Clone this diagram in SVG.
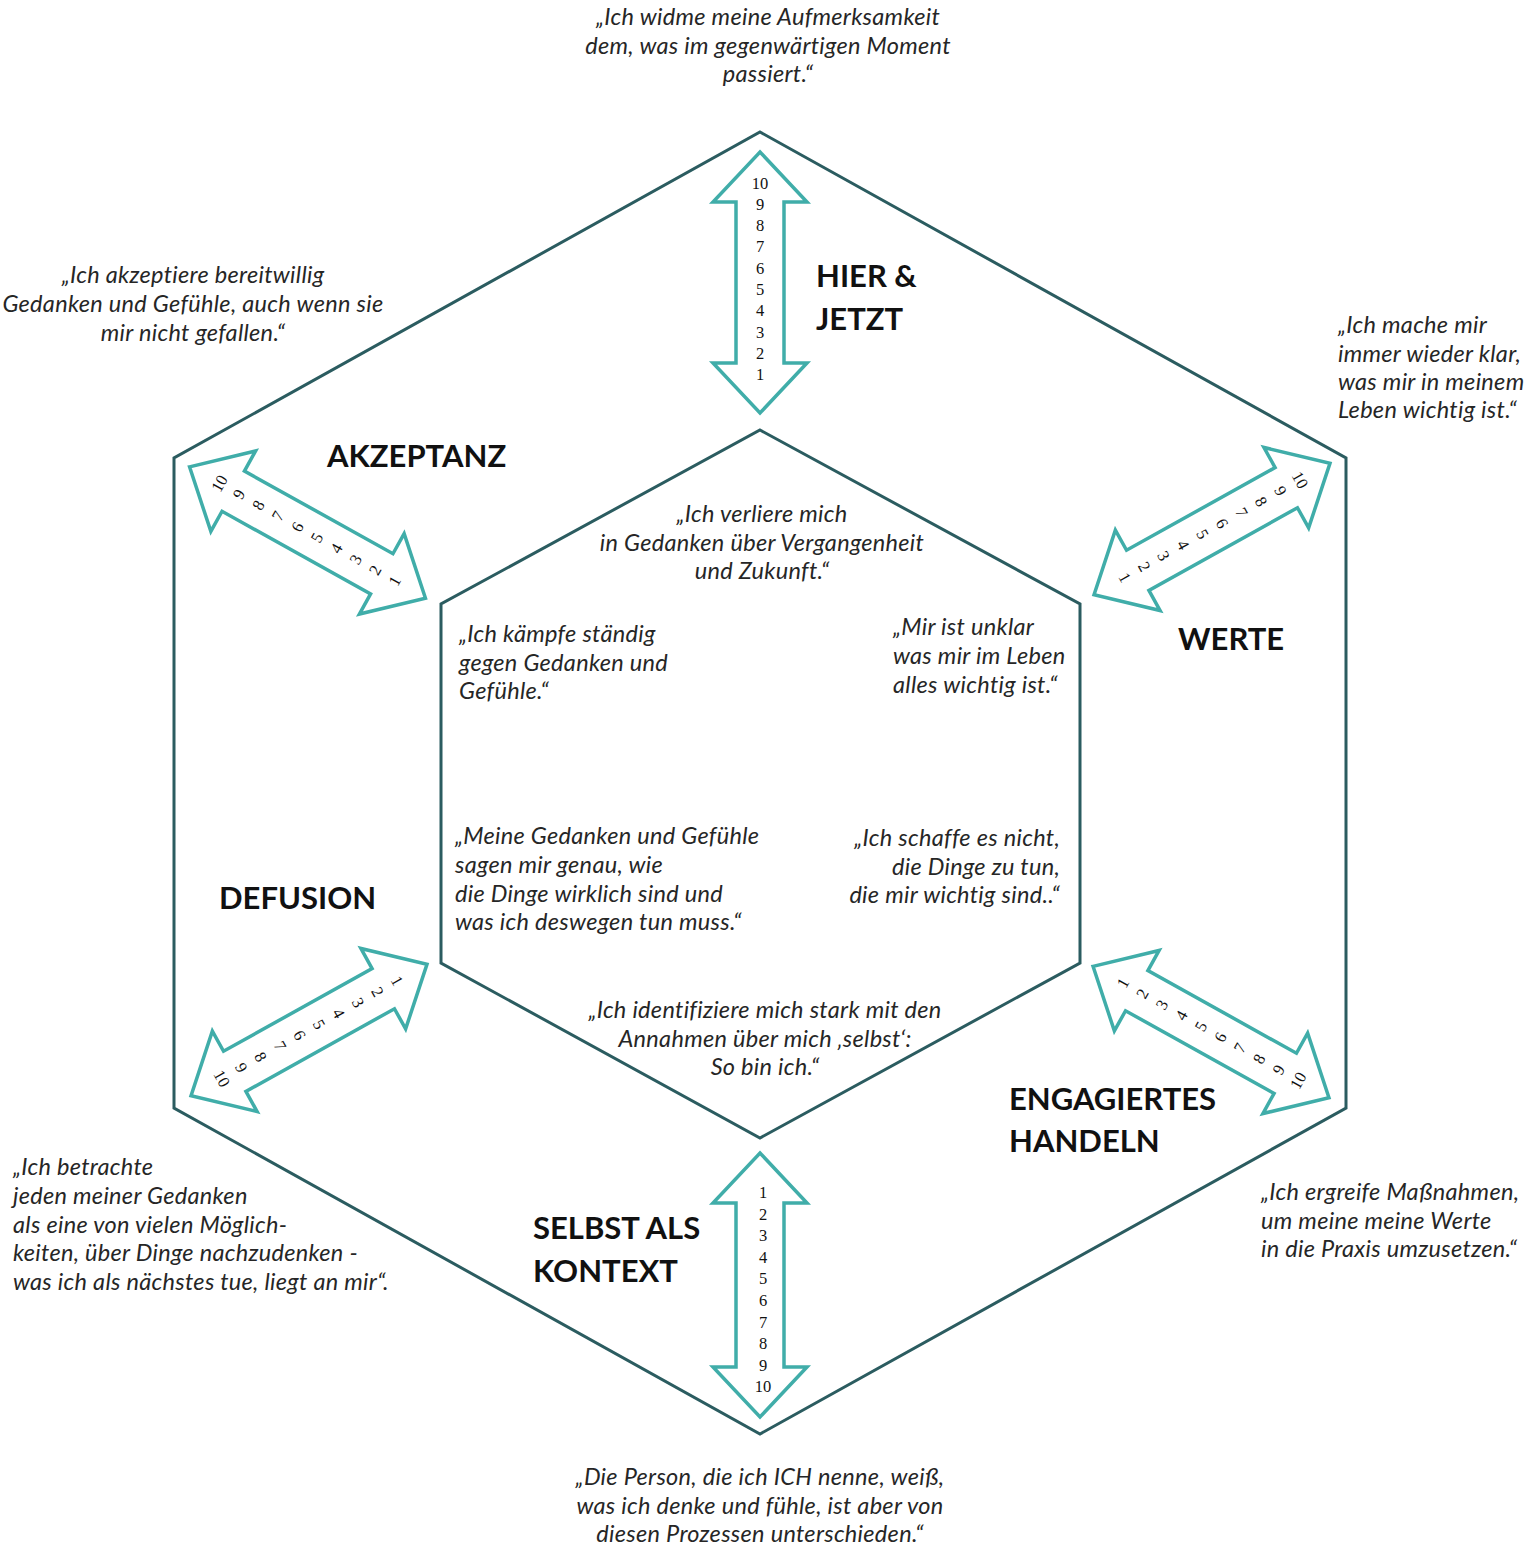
<svg xmlns="http://www.w3.org/2000/svg" xmlns:xlink="http://www.w3.org/1999/xlink" width="1532" height="1544" viewBox="0 0 1532 1544">
<defs>
<style>
.hex{fill:none;stroke:#2b5c60;stroke-width:3;stroke-linejoin:miter}
.arrow{fill:#ffffff;stroke:#40ada9;stroke-width:3.5;stroke-linejoin:miter}
.q{font-family:Lato,"Liberation Sans",sans-serif;font-style:italic;font-size:23.5px;letter-spacing:0.3px;fill:#262626}
.c{text-anchor:middle}
.r{text-anchor:end}
.t{font-family:Lato,"Liberation Sans",sans-serif;font-weight:bold;font-size:31px;fill:#111111}
.n{font-family:"Liberation Serif","Times New Roman",serif;font-size:16.5px;text-anchor:middle;fill:#111111}
</style>
<polygon id="arrV1" class="arrow" points="0,-130.5 47,-80.5 24,-80.5 24,80.5 47,80.5 0,130.5 -47,80.5 -24,80.5 -24,-80.5 -47,-80.5"/>
<polygon id="arrV2" class="arrow" points="0,-132 47,-82 24,-82 24,82 47,82 0,132 -47,82 -24,82 -24,-82 -47,-82"/>
<polygon id="arrD" class="arrow" points="0,-135 46,-85 23,-85 23,85 46,85 0,135 -46,85 -23,85 -23,-85 -46,-85"/>
</defs>
<rect x="0" y="0" width="1532" height="1544" fill="#ffffff"/>

<g id="outer-hexagon">
<polygon class="hex" points="760,132 1346,458 1346,1108 760,1434 174,1108 174,458"/>
</g>
<g id="inner-hexagon">
<polygon class="hex" points="760,430 1080,604 1080,963 760,1138 441,963 441,604"/>
</g>

<g id="connectors">
<g id="scale-hier-jetzt" transform="translate(760,282.5)">
<use xlink:href="#arrV1"/>
<text class="n" x="0" y="-94">10</text>
<text class="n" x="0" y="-72.7">9</text>
<text class="n" x="0" y="-51.4">8</text>
<text class="n" x="0" y="-30.1">7</text>
<text class="n" x="0" y="-8.8">6</text>
<text class="n" x="0" y="12.5">5</text>
<text class="n" x="0" y="33.8">4</text>
<text class="n" x="0" y="55.1">3</text>
<text class="n" x="0" y="76.4">2</text>
<text class="n" x="0" y="97.7">1</text>
</g>
<g id="scale-selbst" transform="translate(760,1285)">
<use xlink:href="#arrV2"/>
<text class="n" x="3" y="-86.8">1</text>
<text class="n" x="3" y="-65.3">2</text>
<text class="n" x="3" y="-43.7">3</text>
<text class="n" x="3" y="-22.2">4</text>
<text class="n" x="3" y="-0.6">5</text>
<text class="n" x="3" y="20.9">6</text>
<text class="n" x="3" y="42.5">7</text>
<text class="n" x="3" y="64">8</text>
<text class="n" x="3" y="85.6">9</text>
<text class="n" x="3" y="107.1">10</text>
</g>
<g id="scale-akzeptanz" transform="translate(307.5,532.5) rotate(-60.9)">
<use xlink:href="#arrD"/>
<text class="n" x="0" y="-95.3">10</text>
<text class="n" x="0" y="-73">9</text>
<text class="n" x="0" y="-50.7">8</text>
<text class="n" x="0" y="-28.4">7</text>
<text class="n" x="0" y="-6.1">6</text>
<text class="n" x="0" y="16.2">5</text>
<text class="n" x="0" y="38.5">4</text>
<text class="n" x="0" y="60.8">3</text>
<text class="n" x="0" y="83.1">2</text>
<text class="n" x="0" y="105.4">1</text>
</g>
<g id="scale-werte" transform="translate(1212,529) rotate(60.9)">
<use xlink:href="#arrD"/>
<text class="n" x="0" y="-95.3">10</text>
<text class="n" x="0" y="-73">9</text>
<text class="n" x="0" y="-50.7">8</text>
<text class="n" x="0" y="-28.4">7</text>
<text class="n" x="0" y="-6.1">6</text>
<text class="n" x="0" y="16.2">5</text>
<text class="n" x="0" y="38.5">4</text>
<text class="n" x="0" y="60.8">3</text>
<text class="n" x="0" y="83.1">2</text>
<text class="n" x="0" y="105.4">1</text>
</g>
<g id="scale-defusion" transform="translate(309,1030) rotate(60.9)">
<use xlink:href="#arrD"/>
<text class="n" x="0" y="-95.3">1</text>
<text class="n" x="0" y="-73">2</text>
<text class="n" x="0" y="-50.7">3</text>
<text class="n" x="0" y="-28.4">4</text>
<text class="n" x="0" y="-6.1">5</text>
<text class="n" x="0" y="16.2">6</text>
<text class="n" x="0" y="38.5">7</text>
<text class="n" x="0" y="60.8">8</text>
<text class="n" x="0" y="83.1">9</text>
<text class="n" x="0" y="105.4">10</text>
</g>
<g id="scale-engagiertes-handeln" transform="translate(1211,1032) rotate(-60.9)">
<use xlink:href="#arrD"/>
<text class="n" x="0" y="-95.3">1</text>
<text class="n" x="0" y="-73">2</text>
<text class="n" x="0" y="-50.7">3</text>
<text class="n" x="0" y="-28.4">4</text>
<text class="n" x="0" y="-6.1">5</text>
<text class="n" x="0" y="16.2">6</text>
<text class="n" x="0" y="38.5">7</text>
<text class="n" x="0" y="60.8">8</text>
<text class="n" x="0" y="83.1">9</text>
<text class="n" x="0" y="105.4">10</text>
</g>
</g>

<g id="node-hier-jetzt">
<text class="t" x="816" y="287">HIER &amp;</text>
<text class="t" x="816" y="330">JETZT</text>
<text class="q c" x="768" y="25">„Ich widme meine Aufmerksamkeit</text>
<text class="q c" x="768" y="54">dem, was im gegenwärtigen Moment</text>
<text class="q c" x="768" y="82">passiert.“</text>
<text class="q c" x="762" y="522">„Ich verliere mich</text>
<text class="q c" x="762" y="551">in Gedanken über Vergangenheit</text>
<text class="q c" x="762" y="579">und Zukunft.“</text>
</g>

<g id="node-akzeptanz">
<text class="t" x="327" y="467">AKZEPTANZ</text>
<text class="q c" x="193" y="283">„Ich akzeptiere bereitwillig</text>
<text class="q c" x="193" y="312">Gedanken und Gefühle, auch wenn sie</text>
<text class="q c" x="193" y="341">mir nicht gefallen.“</text>
<text class="q" x="459" y="642">„Ich kämpfe ständig</text>
<text class="q" x="459" y="671">gegen Gedanken und</text>
<text class="q" x="459" y="699">Gefühle.“</text>
</g>

<g id="node-werte">
<text class="t" x="1178" y="650">WERTE</text>
<text class="q" x="1338" y="333">„Ich mache mir</text>
<text class="q" x="1338" y="362">immer wieder klar,</text>
<text class="q" x="1338" y="390">was mir in meinem</text>
<text class="q" x="1338" y="418">Leben wichtig ist.“</text>
<text class="q" x="893" y="635">„Mir ist unklar</text>
<text class="q" x="893" y="664">was mir im Leben</text>
<text class="q" x="893" y="693">alles wichtig ist.“</text>
</g>

<g id="node-defusion">
<text class="t" x="219" y="909">DEFUSION</text>
<text class="q" x="13" y="1175">„Ich betrachte</text>
<text class="q" x="13" y="1204">jeden meiner Gedanken</text>
<text class="q" x="13" y="1233">als eine von vielen Möglich-</text>
<text class="q" x="13" y="1261">keiten, über Dinge nachzudenken -</text>
<text class="q" x="13" y="1290">was ich als nächstes tue, liegt an mir“.</text>
<text class="q" x="455" y="844">„Meine Gedanken und Gefühle</text>
<text class="q" x="455" y="873">sagen mir genau, wie</text>
<text class="q" x="455" y="902">die Dinge wirklich sind und</text>
<text class="q" x="455" y="930">was ich deswegen tun muss.“</text>
</g>

<g id="node-engagiertes-handeln">
<text class="t" x="1009" y="1110">ENGAGIERTES</text>
<text class="t" x="1009" y="1152">HANDELN</text>
<text class="q" x="1261" y="1200">„Ich ergreife Maßnahmen,</text>
<text class="q" x="1261" y="1229">um meine meine Werte</text>
<text class="q" x="1261" y="1257">in die Praxis umzusetzen.“</text>
<text class="q r" x="1060" y="846">„Ich schaffe es nicht,</text>
<text class="q r" x="1060" y="875">die Dinge zu tun,</text>
<text class="q r" x="1060" y="903">die mir wichtig sind..“</text>
</g>

<g id="node-selbst-als-kontext">
<text class="t" x="533" y="1239">SELBST ALS</text>
<text class="t" x="533" y="1282">KONTEXT</text>
<text class="q c" x="760" y="1485">„Die Person, die ich ICH nenne, weiß,</text>
<text class="q c" x="760" y="1514">was ich denke und fühle, ist aber von</text>
<text class="q c" x="760" y="1542">diesen Prozessen unterschieden.“</text>
<text class="q c" x="765" y="1018">„Ich identifiziere mich stark mit den</text>
<text class="q c" x="765" y="1047">Annahmen über mich ‚selbst‘:</text>
<text class="q c" x="765" y="1075">So bin ich.“</text>
</g>
</svg>
